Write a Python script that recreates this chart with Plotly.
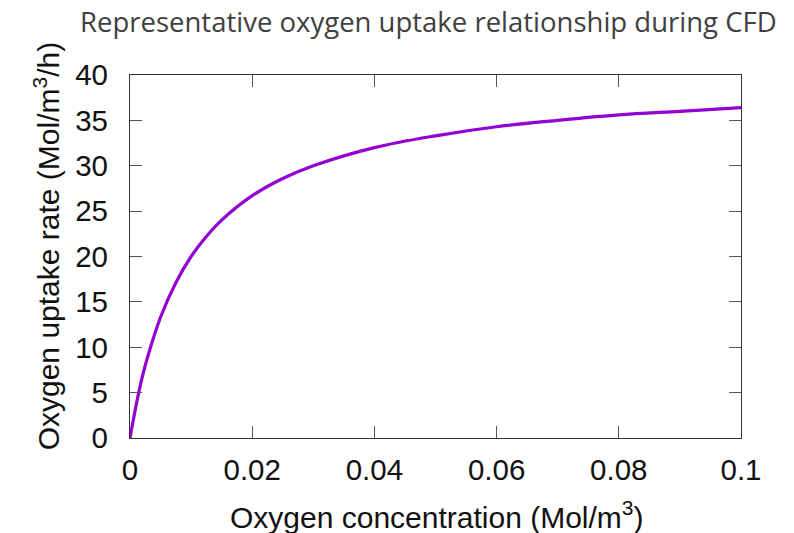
import plotly.graph_objects as go

# Oxygen uptake rate (Mol/m^3/h) versus dissolved oxygen concentration (Mol/m^3)
concentration = [0, 0.001, 0.002, 0.003, 0.005, 0.0075, 0.01, 0.0125, 0.015,
                 0.02, 0.025, 0.03, 0.04, 0.05, 0.06, 0.07, 0.08, 0.09, 0.1]
uptake_rate = [0, 3.6, 6.7, 9.2, 13.3, 17.1, 20.0, 22.2, 24.0,
               26.7, 28.6, 30.0, 32.0, 33.3, 34.3, 35.0, 35.6, 36.0, 36.4]

x_ticks = [0, 0.02, 0.04, 0.06, 0.08, 0.1]
x_tick_text = ["0", "0.02", "0.04", "0.06", "0.08", "0.1"]
y_ticks = [0, 5, 10, 15, 20, 25, 30, 35, 40]

AXIS_FONT = "Liberation Sans, Arial, sans-serif"

fig = go.Figure()
fig.add_trace(go.Scatter(
    x=concentration, y=uptake_rate, mode="lines",
    line=dict(color="#9400D3", width=3.2, shape="spline", smoothing=1.0),
    showlegend=False, hoverinfo="x+y",
))

axis_common = dict(
    showline=True, linecolor="#333333", linewidth=1.2, mirror="ticks",
    ticks="inside", ticklen=12, tickwidth=1.2, tickcolor="#555555",
    showgrid=False, zeroline=False,
    tickfont=dict(family=AXIS_FONT, size=29.5, color="#111111"),
)

fig.update_xaxes(range=[0, 0.1], tickvals=x_ticks, ticktext=x_tick_text,
                 ticklabelstandoff=5, **axis_common)
fig.update_yaxes(range=[0, 40], tickvals=y_ticks,
                 ticklabelstandoff=15, **axis_common)

fig.update_layout(
    width=794, height=533,
    margin=dict(l=130, r=53, t=75, b=95),
    paper_bgcolor="white", plot_bgcolor="white",
    title=dict(
        text="Representative oxygen uptake relationship during CFD",
        font=dict(family="Open Sans, sans-serif", size=27.5, color="#404040"),
        xref="container", yref="container",
        x=80 / 794, xanchor="left", y=1 - 22 / 533, yanchor="middle",
    ),
    annotations=[
        dict(text="Oxygen concentration (Mol/m<sup>3</sup>)",
             xref="paper", yref="paper", x=0.502, y=0, xanchor="center",
             yanchor="middle", yshift=-77, showarrow=False,
             font=dict(family=AXIS_FONT, size=30, color="#111111")),
        dict(text="Oxygen uptake rate (Mol/m<sup>3</sup>/h)",
             xref="paper", yref="paper", x=0, y=0.528, xanchor="center",
             yanchor="middle", xshift=-83, textangle=-90, showarrow=False,
             font=dict(family=AXIS_FONT, size=30, color="#111111")),
    ],
)

fig.write_html("out.html")
